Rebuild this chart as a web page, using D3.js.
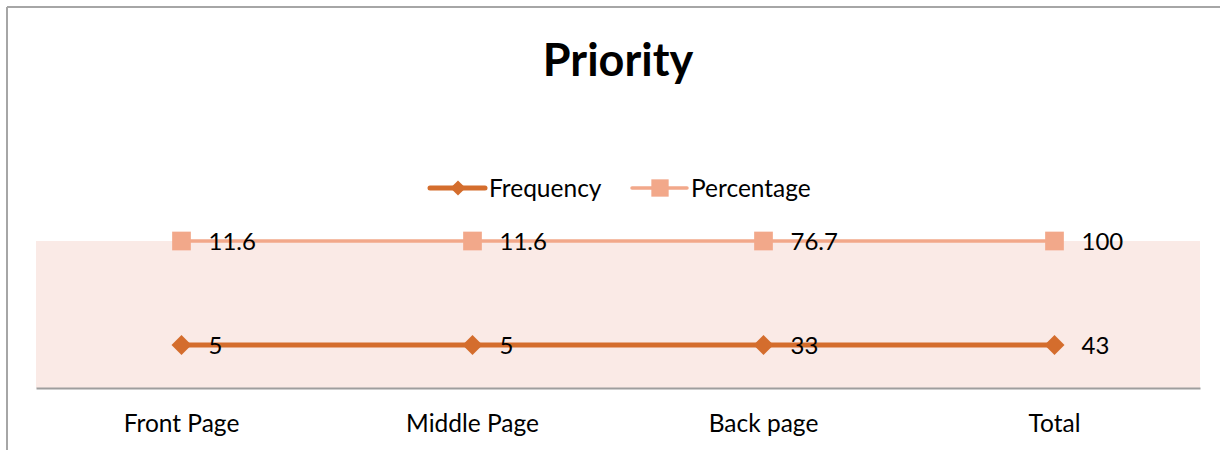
<!DOCTYPE html>
<html>
<head>
<meta charset="utf-8">
<script src="https://cdn.jsdelivr.net/npm/d3@7"></script>
<style>
  html, body { margin: 0; padding: 0; background: #fff; }
  svg { display: block; }
  text { font-family: Lato, "Open Sans", sans-serif; fill: #000; }
</style>
</head>
<body>
<svg id="chart" width="1220" height="450"></svg>
<script>
// ---- data ----
const categories = ["Front Page", "Middle Page", "Back page", "Total"];
const seriesNames = ["Frequency", "Percentage"];
const frequency = [5, 5, 33, 43];
const percentage = [11.6, 11.6, 76.7, 100];
const title = "Priority";

// ---- styling ----
const colors = { Frequency: "#D46D2D", Percentage: "#F2A88A" };
const lineWidths = { Frequency: 5, Percentage: 3.5 };

const svg = d3.select("#chart");
const W = 1220, H = 450;

// chart border (top and left visible)
svg.append("line").attr("x1", 7).attr("x2", W).attr("y1", 7).attr("y2", 7)
  .attr("stroke", "#A6A6A6").attr("stroke-width", 2);
svg.append("line").attr("x1", 7).attr("x2", 7).attr("y1", 7).attr("y2", H)
  .attr("stroke", "#A6A6A6").attr("stroke-width", 2);

const plot = { left: 36, right: 1200, top: 241, bottom: 388 };

// plot area background
svg.append("rect")
  .attr("x", plot.left).attr("y", plot.top)
  .attr("width", plot.right - plot.left).attr("height", plot.bottom - plot.top)
  .attr("fill", "#FAEAE6");

const x = d3.scaleBand().domain(categories).range([plot.left, plot.right]);
// each series drawn on its own level (as in the source chart)
const y = d3.scalePoint().domain(seriesNames).range([345, 241]);

// x axis
const xAxis = svg.append("g")
  .attr("transform", `translate(0,${plot.bottom})`)
  .call(d3.axisBottom(x).tickSize(0).tickPadding(27));
xAxis.select(".domain").attr("stroke", "#9E9E9E").attr("stroke-width", 2);
xAxis.selectAll(".tick text")
  .attr("font-family", "Lato, sans-serif")
  .attr("font-size", 24.5).attr("fill", "#000");

const series = [
  { name: "Frequency", values: frequency, symbol: d3.symbolSquare, rot: 45, size: 200, fmt: d => d3.format("d")(d) },
  { name: "Percentage", values: percentage, symbol: d3.symbolSquare, rot: 0, size: 350, fmt: d => String(d) }
];

const line = d3.line();

series.forEach(s => {
  const pts = s.values.map((v, i) => [x(categories[i]) + x.bandwidth() / 2, y(s.name), v]);
  svg.append("path")
    .attr("d", line(pts.map(p => [p[0], p[1]])))
    .attr("fill", "none")
    .attr("stroke", colors[s.name])
    .attr("stroke-width", lineWidths[s.name])
    .attr("stroke-linecap", "round");
  svg.selectAll(null).data(pts).enter().append("path")
    .attr("transform", d => `translate(${d[0]},${d[1]}) rotate(${s.rot})`)
    .attr("d", d3.symbol().type(s.symbol).size(s.size))
    .attr("fill", colors[s.name]);
  svg.selectAll(null).data(pts).enter().append("text")
    .attr("x", d => d[0] + 27)
    .attr("y", d => d[1])
    .attr("dy", "0.36em")
    .attr("font-size", 24)
    .text(d => s.fmt(d[2]));
});

// title
svg.append("text")
  .attr("x", 618).attr("y", 60).attr("dy", "0.36em")
  .attr("text-anchor", "middle")
  .attr("font-size", 45).attr("font-weight", "bold")
  .text(title);

// legend
const legendItems = [
  { name: "Frequency", x0: 430, symbol: d3.symbolSquare, rot: 45, size: 115 },
  { name: "Percentage", x0: 632, symbol: d3.symbolSquare, rot: 0, size: 300 }
];
const ly = 188;
legendItems.forEach(it => {
  svg.append("line")
    .attr("x1", it.x0).attr("x2", it.x0 + 55).attr("y1", ly).attr("y2", ly)
    .attr("stroke", colors[it.name]).attr("stroke-width", lineWidths[it.name])
    .attr("stroke-linecap", "round");
  svg.append("path")
    .attr("transform", `translate(${it.x0 + 28},${ly}) rotate(${it.rot})`)
    .attr("d", d3.symbol().type(it.symbol).size(it.size))
    .attr("fill", colors[it.name]);
  svg.append("text")
    .attr("x", it.x0 + 59).attr("y", ly).attr("dy", "0.36em")
    .attr("font-size", 24.5)
    .text(it.name);
});
</script>
</body>
</html>
